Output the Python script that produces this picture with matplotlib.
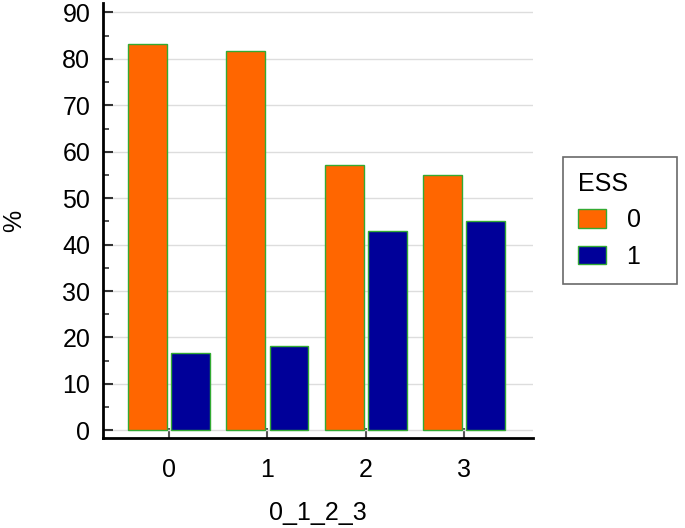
import matplotlib
matplotlib.use("Agg")
import matplotlib.pyplot as plt
from matplotlib.ticker import MultipleLocator
import numpy as np

categories = ["0", "1", "2", "3"]
series_names = ["0", "1"]
vals_0 = [83.3, 81.8, 57.1, 55.0]
vals_1 = [16.7, 18.2, 42.9, 45.0]
colors = ["#FF6600", "#000099"]

plt.rcParams['font.family'] = ['Liberation Sans', 'DejaVu Sans']

fig = plt.figure(figsize=(6.85, 5.28), dpi=100)
ax = fig.add_axes([0.150, 0.170, 0.628, 0.824])

x = np.arange(len(categories))
w = 0.394
off = 0.22
for i, (vals, name) in enumerate(zip([vals_0, vals_1], series_names)):
    ax.bar(x + (off if i else -off), vals, width=w, color=colors[i],
           edgecolor="#33AA33", linewidth=1.0,
           label=name + "\u00a0" * 3, zorder=3)

ax.set_xlim(-0.675, 3.70)
ax.set_ylim(-1.7, 92)
ax.set_xticks(x)
ax.set_xticklabels(categories)
ax.yaxis.set_major_locator(MultipleLocator(10))
ax.yaxis.set_minor_locator(MultipleLocator(5))
ax.grid(axis="y", color="#dddddd", linewidth=1.0, zorder=0)
ax.set_axisbelow(True)

for s in ["top", "right"]:
    ax.spines[s].set_visible(False)
for s in ["left", "bottom"]:
    ax.spines[s].set_linewidth(2.0)
    ax.spines[s].set_color("black")

ax.tick_params(axis="y", which="major", direction="in", length=7, width=1.5,
               color="#333333", labelsize=18, pad=9)
ax.tick_params(axis="y", which="minor", direction="in", length=4, width=1.2,
               color="#333333")
ax.tick_params(axis="x", which="major", direction="in", length=7, width=1.5,
               color="#555555", labelsize=18, pad=14)

ax.set_xlabel("0_1_2_3", fontsize=18, labelpad=14)
ax.set_ylabel("%", fontsize=18, labelpad=26)

leg = fig.legend(loc="upper left", bbox_to_anchor=(0.822, 0.703),
                 borderaxespad=0,
                 title="ESS", fontsize=18, title_fontsize=18,
                 frameon=True, fancybox=False, handlelength=1.1,
                 handleheight=0.75, borderpad=0.6, labelspacing=0.5,
                 handletextpad=0.85)
leg._legend_box.align = "left"
leg.get_frame().set_edgecolor("#444444")
leg.get_frame().set_linewidth(1.2)

fig.savefig("out.png", dpi=100)
